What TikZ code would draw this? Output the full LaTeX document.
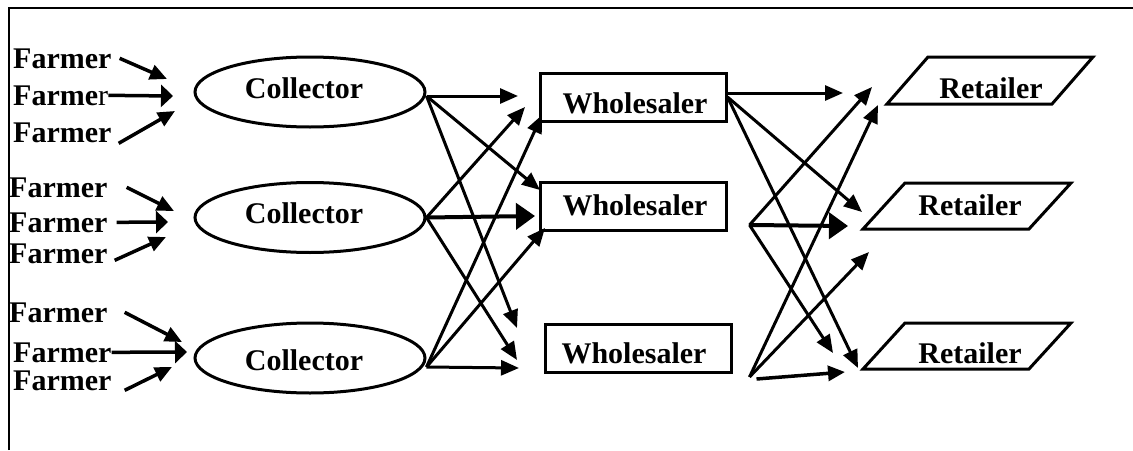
\documentclass[tikz,border=0pt]{standalone}
\usepackage{fontspec}
\setmainfont{Liberation Serif}
\usetikzlibrary{arrows.meta,shapes.geometric}
\begin{document}
\begin{tikzpicture}[x=1pt,y=-1pt,
  txt/.style={inner sep=0pt,font=\bfseries\fontsize{30}{36}\selectfont},
  coll/.style={ellipse,draw,line width=3pt,minimum width=230pt,minimum height=70pt,inner sep=0pt},
  wbox/.style={rectangle,draw,line width=3pt,minimum width=186pt,minimum height=48pt,inner sep=0pt},
  para/.style={line width=3pt,line join=miter},
  arr/.style={line width=3pt,-{Triangle[length=18pt,width=15pt]}},
  farr/.style={line width=3.5pt,-{Triangle[length=17pt,width=15pt]}},
  fharr/.style={line width=3.5pt,-{Triangle[length=12pt,width=22pt]}},
  bigarr/.style={line width=4pt,-{Triangle[length=19pt,width=26pt]}}]
\useasboundingbox (0,0) rectangle (1133,450);
\fill[white] (0,0) rectangle (1133,450);
% frame
\draw[line width=2pt] (8.5,450) -- (8.5,7.5) -- (1133,7.5);

% farmers
\node[txt,anchor=base west] (f11) at (13,68) {Farmer};
\node[txt,anchor=base west] (f12) at (13,105) {Farme{\mdseries r}};
\node[txt,anchor=base west] (f13) at (13,142) {Farmer};
\node[txt,anchor=base west] (f21) at (9,197) {Farmer};
\node[txt,anchor=base west] (f22) at (9,232) {Farmer};
\node[txt,anchor=base west] (f23) at (9,263) {Farmer};
\node[txt,anchor=base west] (f31) at (9,322) {Farmer};
\node[txt,anchor=base west] (f32) at (13,362) {Farmer};
\node[txt,anchor=base west] (f33) at (13,390) {Farmer};

% collectors
\node[coll] (c1) at (310,92) {};
\node[coll] (c2) at (310,217.5) {};
\node[coll] (c3) at (310,358) {};
\node[txt,anchor=base] (c1t) at (304,98) {Collector};
\node[txt,anchor=base] (c2t) at (304,223) {Collector};
\node[txt,anchor=base] (c3t) at (304,370) {Collector};

% wholesalers
\node[wbox] (w1) at (633,97) {};
\node[wbox] (w2) at (633,206.5) {};
\node[wbox] (w3) at (638,348.5) {};
\node[txt,anchor=base] (w1t) at (635,113) {Wholesaler};
\node[txt,anchor=base] (w2t) at (635,215) {Wholesaler};
\node[txt,anchor=base] (w3t) at (634,363) {Wholesaler};

% retailers
\draw[para] (887,104) -- (1052,104) -- (1093,57) -- (928,57) -- cycle;
\draw[para] (863,229) -- (1029,229) -- (1071,183) -- (905,183) -- cycle;
\draw[para] (863,369) -- (1029,369) -- (1071,323) -- (905,323) -- cycle;
\node[txt,anchor=base] (r1t) at (991,98) {Retailer};
\node[txt,anchor=base] (r2t) at (970,215) {Retailer};
\node[txt,anchor=base] (r3t) at (970,363) {Retailer};

% tip coordinates
\coordinate (ft11) at (167,79);
\coordinate (ft12) at (173,96);
\coordinate (ft13) at (175,111);
\coordinate (ft21) at (174,211);
\coordinate (ft22) at (168,222);
\coordinate (ft23) at (166,237);
\coordinate (ft31) at (182,342);
\coordinate (ft32) at (187,352);
\coordinate (ft33) at (172,367);

\coordinate (ct1a) at (518,96);
\coordinate (ct1b) at (540,190);
\coordinate (ct1c) at (517,328);
\coordinate (ct2a) at (525,107);
\coordinate (ct2b) at (535,216);
\coordinate (ct2c) at (517,360);
\coordinate (ct3a) at (542,115);
\coordinate (ct3b) at (545,228);
\coordinate (ct3c) at (519,368);

\coordinate (rt1a) at (843,93);
\coordinate (rt1b) at (862,212);
\coordinate (rt1c) at (858,368);
\coordinate (rt2a) at (872,87);
\coordinate (rt2b) at (848,226);
\coordinate (rt2c) at (833,353);
\coordinate (rt3a) at (878,105);
\coordinate (rt3b) at (869,252);
\coordinate (rt3c) at (845,372);

% farmer arrows
\draw[farr] ([xshift=8pt]f11.east) -- (ft11);
\draw[fharr] (f12.east) -- (ft12);
\draw[farr] ([shift={(7pt,-11pt)}]f13.east) -- (ft13);
\draw[farr] ([xshift=19pt]f21.east) -- (ft21);
\draw[fharr] ([xshift=9pt]f22.east) -- (ft22);
\draw[farr] ([shift={(7pt,-7pt)}]f23.east) -- (ft23);
\draw[farr] ([xshift=17pt]f31.east) -- (ft31);
\draw[fharr] (f32.east) -- (ft32);
\draw[farr] ([shift={(13pt,-10pt)}]f33.east) -- (ft33);

% collector arrows
\draw[arr] ([yshift=-4pt]c1.east) -- (ct1a);
\draw[arr] ([yshift=-4pt]c1.east) -- (ct1b);
\draw[arr] ([yshift=-4pt]c1.east) -- (ct1c);
\draw[arr] (c2.east) -- (ct2a);
\draw[bigarr] (c2.east) -- (ct2b);
\draw[arr] (c2.east) -- (ct2c);
\draw[arr] ([yshift=-9pt]c3.east) -- (ct3a);
\draw[arr] ([yshift=-9pt]c3.east) -- (ct3b);
\draw[arr] ([yshift=-9pt]c3.east) -- (ct3c);

% wholesaler arrows
\draw[arr] ([yshift=4pt]w1.east) -- (rt1a);
\draw[arr] (w1.east) -- (rt1b);
\draw[arr] (w1.east) -- (rt1c);
\draw[arr] ([shift={(22pt,7pt)}]w2.south east) -- (rt2a);
\draw[bigarr] ([shift={(22pt,7pt)}]w2.south east) -- (rt2b);
\draw[arr] ([shift={(22pt,7pt)}]w2.south east) -- (rt2c);
\draw[arr] ([shift={(17pt,-3pt)}]w3.south east) -- (rt3a);
\draw[arr] ([shift={(17pt,-3pt)}]w3.south east) -- (rt3b);
\draw[farr] ([shift={(24pt,-5pt)}]w3.south east) -- (rt3c);
\end{tikzpicture}
\end{document}
